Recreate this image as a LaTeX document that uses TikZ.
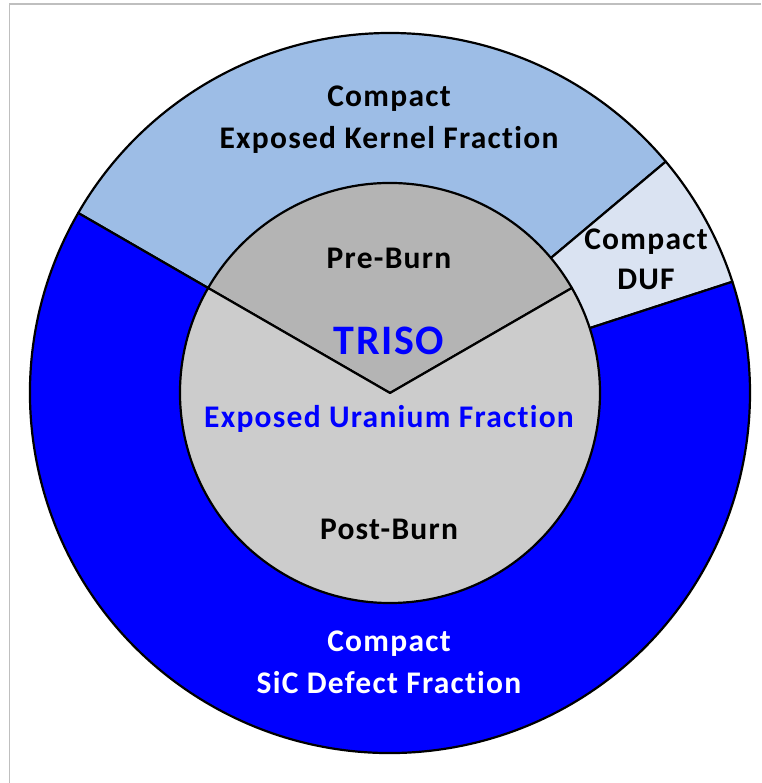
\documentclass[tikz,border=0pt]{standalone}
\usepackage{fontspec}
\setmainfont{Carlito}[Ligatures={NoCommon}]
\definecolor{kernelblue}{HTML}{9DBDE6}
\definecolor{dufblue}{HTML}{DAE3F2}
\definecolor{sicblue}{HTML}{0000FF}
\definecolor{pregray}{HTML}{B4B4B4}
\definecolor{postgray}{HTML}{CCCCCC}
\definecolor{framegray}{HTML}{BFBFBF}
\begin{document}
\begin{tikzpicture}[x=1pt,y=1pt,
  sector/.style={draw=black,line width=2.2pt,line join=round},
  lbl/.style={anchor=base,inner sep=0pt,font=\fontsize{31.5}{38}\selectfont\bfseries\addfontfeatures{LetterSpace=4}},
  bigl/.style={anchor=base,inner sep=0pt,font=\fontsize{42}{50}\selectfont\bfseries\addfontfeatures{LetterSpace=4}}]
\useasboundingbox (0,0) rectangle (761,783);
% frame
\draw[framegray,line width=1.8pt] (9.5,0) -- (9.5,779) -- (761,779);
\coordinate (c) at (390,390);
% outer ring sectors
\filldraw[sector,fill=kernelblue] (c) -- ++(40:360) arc[start angle=40,end angle=150,radius=360] -- cycle;
\filldraw[sector,fill=dufblue] (c) -- ++(18:360) arc[start angle=18,end angle=40,radius=360] -- cycle;
\filldraw[sector,fill=sicblue] (c) -- ++(150:360) arc[start angle=150,end angle=378,radius=360] -- cycle;
% inner circle sectors
\filldraw[sector,fill=pregray] (c) -- ++(30:210) arc[start angle=30,end angle=150,radius=210] -- cycle;
\filldraw[sector,fill=postgray] (c) -- ++(150:210) arc[start angle=150,end angle=390,radius=210] -- cycle;
% labels
\node[lbl] (k1) at (389,676) {Compact};
\node[lbl] (k2) at (389,634.3) {Exposed Kernel Fraction};
\node[lbl] (d1) at (646,533) {Compact};
\node[lbl] (d2) at (646,493) {DUF};
\node[lbl] (pre) at (389,514.7) {Pre-Burn};
\node[bigl,text=sicblue] (triso) at (389,428) {TRISO};
\node[lbl,text=sicblue] (euf) at (389,355) {Exposed Uranium Fraction};
\node[lbl] (post) at (389,243) {Post-Burn};
\node[lbl,text=white] (s1) at (389,131.3) {Compact};
\node[lbl,text=white] (s2) at (389,89) {SiC Defect Fraction};
\end{tikzpicture}
\end{document}
